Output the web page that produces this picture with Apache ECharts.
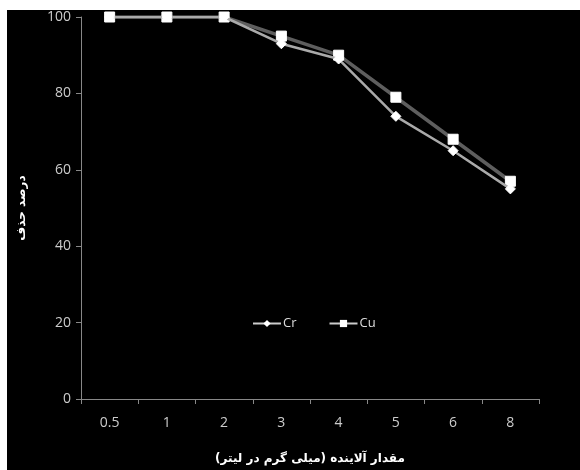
<!DOCTYPE html>
<html><head><meta charset="utf-8">
<script src="https://cdn.jsdelivr.net/npm/echarts@6/dist/echarts.min.js"></script>
<style>
html,body{margin:0;padding:0;background:#fff;width:580px;height:470px;overflow:hidden}
#c{position:absolute;left:7px;top:10px;width:573px;height:460px;background:#000}
</style></head>
<body><div id="c"></div>
<script>
const categories = ['0.5','1','2','3','4','5','6','8'];
const crValues = [100, 100, 100, 93, 89, 74, 65, 55];
const cuValues = [100, 100, 100, 95, 90, 79, 68, 57];
const yTicks = [0, 20, 40, 60, 80, 100];
const xTitle = 'مقدار آلاینده (میلی گرم در لیتر)';
const yTitle = 'درصد حذف';

const chart = echarts.init(document.getElementById('c'), null, {renderer:'canvas'});
chart.setOption({
  backgroundColor: '#000',
  animation: false,
  grid: {left: 74, top: 7, right: 41, bottom: 70},
  legend: {
    top: 302, left: 240, itemGap: 32, itemWidth: 28, itemHeight: 9,
    lineStyle: {color: '#ccc', width: 2},
    textStyle: {color: '#ddd', fontSize: 13, fontFamily: 'Open Sans', padding: [0,0,0,-3]},
    data: ['Cr', 'Cu']
  },
  xAxis: {
    type: 'category', data: categories, boundaryGap: true,
    name: xTitle, nameLocation: 'middle', nameGap: 54,
    nameTextStyle: {color: '#fff', fontSize: 12, fontWeight: 'bold', fontFamily: 'DejaVu Sans'},
    axisLine: {lineStyle: {color: '#888', width: 1}},
    axisTick: {show: true, length: 5, lineStyle: {color: '#888'}},
    axisLabel: {color: '#ccc', fontSize: 14, margin: 17, fontFamily: 'Open Sans'},
    splitLine: {show: false}
  },
  yAxis: {
    type: 'value', min: yTicks[0], max: yTicks[yTicks.length-1], interval: 20,
    name: yTitle, nameLocation: 'middle', nameGap: 53, nameRotate: 90,
    nameTextStyle: {color: '#fff', fontSize: 12, fontWeight: 'bold', fontFamily: 'DejaVu Sans'},
    axisLine: {show: true, lineStyle: {color: '#888', width: 1}},
    axisTick: {show: true, length: 5, lineStyle: {color: '#888'}},
    axisLabel: {color: '#ccc', fontSize: 14, margin: 10, fontFamily: 'Open Sans'},
    splitLine: {show: false}
  },
  series: [
    {
      name: 'Cu', type: 'line', data: cuValues, z: 2,
      symbol: 'rect', symbolSize: 10,
      lineStyle: {color: '#5e5e5e', width: 3.5},
      itemStyle: {color: '#fff', borderColor: '#fff'}
    },
    {
      name: 'Cr', type: 'line', data: crValues, z: 3,
      symbol: 'diamond', symbolSize: 10,
      lineStyle: {color: '#aaa', width: 2.5},
      itemStyle: {color: '#fff', borderColor: '#fff'}
    }
  ]
});
</script></body></html>
